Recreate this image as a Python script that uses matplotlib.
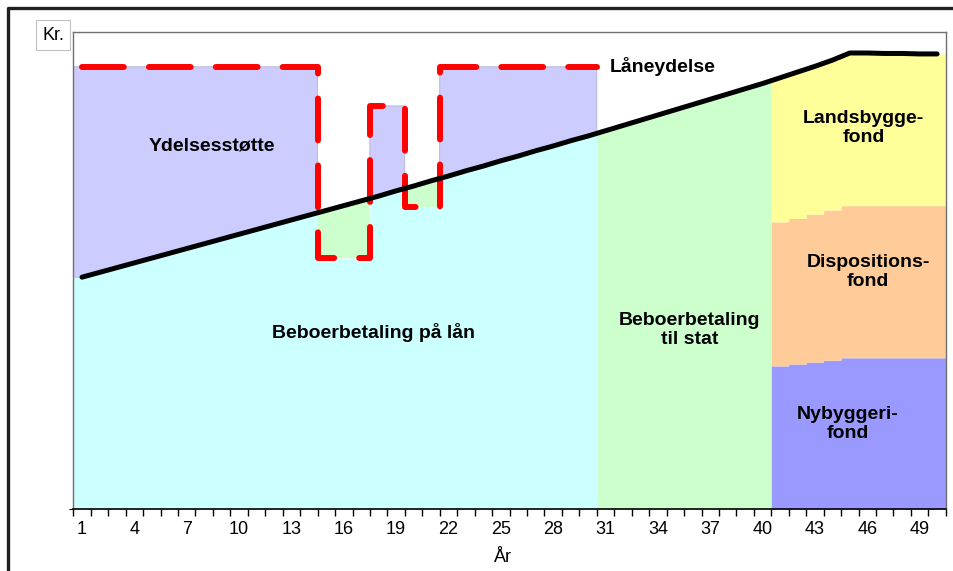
import numpy as np
import matplotlib.pyplot as plt
from matplotlib.lines import Line2D

plt.rcParams["font.family"] = ["Liberation Sans", "DejaVu Sans"]

# years 1..50 (category axis)
years = np.arange(1, 51)

# resident payment (black line), kr. (axis 0-100)
beboerbetaling = [48.6, 49.6, 50.6, 51.6, 52.6, 53.6, 54.6, 55.6, 56.6, 57.6,
                  58.6, 59.6, 60.6, 61.6, 62.6, 63.6, 64.6, 65.6, 66.7, 67.7,
                  68.8, 69.8, 70.9, 71.9, 73.0, 74.0, 75.1, 76.1, 77.2, 78.2,
                  79.3, 80.4, 81.5, 82.6, 83.7, 84.8, 85.9, 87.0, 88.1, 89.2,
                  90.4, 91.6, 92.8, 94.1, 95.6, 95.6, 95.5, 95.5, 95.4, 95.4]

# loan payment (red dashed), years 1..30
laaneydelse = [92.7] * 14 + [52.6] * 3 + [84.5] * 2 + [63.3] * 2 + [92.7] * 9

# fund split, years 41..50
nybyggeri = [30.0, 30.4, 30.8, 31.2, 31.7, 31.7, 31.7, 31.7, 31.7, 31.7]
dispositions = [30.2, 30.5, 31.0, 31.5, 31.9, 31.9, 31.9, 31.9, 31.9, 31.9]

tick_labels = [str(y) for y in range(1, 51, 3)]

fig = plt.figure(figsize=(9.54, 5.71), dpi=100)
ax = fig.add_axes([73.3 / 954, 1 - 509 / 571, 872.5 / 954, 477 / 571])

# fine grid for the fills: black line interpolated, red as steps
xf = np.linspace(0.5, 50.5, 5001)
black_f = np.interp(xf, years, beboerbetaling)
idx = np.clip(np.floor(xf + 0.5).astype(int), 1, 50)

loan_years = np.arange(1, 31)
red_f = np.array(laaneydelse)[np.clip(idx, 1, 30) - 1]

m_loan = xf <= 30.5
m_state = (xf >= 30.5) & (xf <= 40.5)
m_fund = xf >= 40.5

# years 1-30
ax.fill_between(xf[m_loan], 0, np.minimum(black_f, red_f)[m_loan],
                color="#CCFFFF", lw=0)
ax.fill_between(xf[m_loan], black_f[m_loan], red_f[m_loan],
                where=(red_f > black_f)[m_loan], color="#CCCCFF",
                edgecolor="#B0B0D0", lw=0.6, interpolate=True)
ax.fill_between(xf[m_loan], red_f[m_loan], black_f[m_loan],
                where=(red_f < black_f)[m_loan], color="#CCFFCC", lw=0,
                interpolate=True)

# years 31-40
ax.fill_between(xf[m_state], 0, black_f[m_state], color="#CCFFCC", lw=0)

# years 41-50: stacked funds
fund_idx = np.clip(idx[m_fund], 41, 50) - 41
nyb_f = np.array(nybyggeri)[fund_idx]
disp_f = nyb_f + np.array(dispositions)[fund_idx]
ax.fill_between(xf[m_fund], 0, nyb_f, color="#9999FF", lw=0)
ax.fill_between(xf[m_fund], nyb_f, disp_f, color="#FFCC99", lw=0)
ax.fill_between(xf[m_fund], disp_f, black_f[m_fund], color="#FFFF99", lw=0)

# red step line for the loan payment
rx = [1.0]
ry = [laaneydelse[0]]
for i in range(1, 30):
    if laaneydelse[i] != laaneydelse[i - 1]:
        rx += [loan_years[i] - 0.5, loan_years[i] - 0.5]
        ry += [laaneydelse[i - 1], laaneydelse[i]]
rx.append(30.5)
ry.append(laaneydelse[-1])
ax.plot(rx, ry, color="#FF0000", lw=4.3, dashes=(7, 4.2),
        dash_capstyle="round", solid_joinstyle="miter", zorder=4)

# black line
ax.plot(years, beboerbetaling, color="black", lw=3.6,
        solid_capstyle="round", zorder=5)

ax.set_xlim(0.5, 50.5)
ax.set_ylim(0, 100)
ax.set_yticks([0])
ax.set_yticklabels([""])
ax.tick_params(axis="y", length=3, width=0.8)
ax.set_xticks(list(range(1, 51, 3)))
ax.set_xticklabels(tick_labels, fontsize=13)
ax.set_xticks(np.arange(0.5, 51, 1), minor=True)
ax.tick_params(axis="x", which="major", length=0, pad=9)
ax.tick_params(axis="x", which="minor", length=5, width=1, color="black")
ax.set_xlabel("År", fontsize=13)
ax.xaxis.set_label_coords((503 - 73.3) / 872.5, -(558 - 509) / 477)
ax.xaxis.label.set_verticalalignment("center")

for side in ["top", "right", "left"]:
    ax.spines[side].set_color("#707070")
    ax.spines[side].set_linewidth(1)
ax.spines["bottom"].set_color("black")
ax.spines["bottom"].set_linewidth(1.2)

# labels inside the chart
lab = dict(fontsize=14, fontweight="bold", ha="center", va="center",
           linespacing=1.1, zorder=6)
ax.text(8.42, 76.1, "Ydelsesstøtte", **lab)
ax.text(34.3, 92.7, "Låneydelse", **lab)
ax.text(17.7, 37.1, "Beboerbetaling på lån", **lab)
ax.text(35.84, 37.5, "Beboerbetaling\ntil stat", **lab)
ax.text(45.8, 79.9, "Landsbygge-\nfond", **lab)
ax.text(46.05, 49.7, "Dispositions-\nfond", **lab)
ax.text(44.9, 17.8, "Nybyggeri-\nfond", **lab)

# "Kr." box
fig.text(53 / 954, 1 - 35 / 571, "Kr.", fontsize=13, ha="center", va="center",
         bbox=dict(boxstyle="square,pad=0.35", fc="white", ec="#C0C0C0", lw=0.8))

# outer frame
fig.add_artist(Line2D([8 / 954, 8 / 954, 1.01], [-0.01, 1 - 8 / 571, 1 - 8 / 571],
                      transform=fig.transFigure, color="#202020", lw=2.4))

fig.savefig("out.png", dpi=100)
